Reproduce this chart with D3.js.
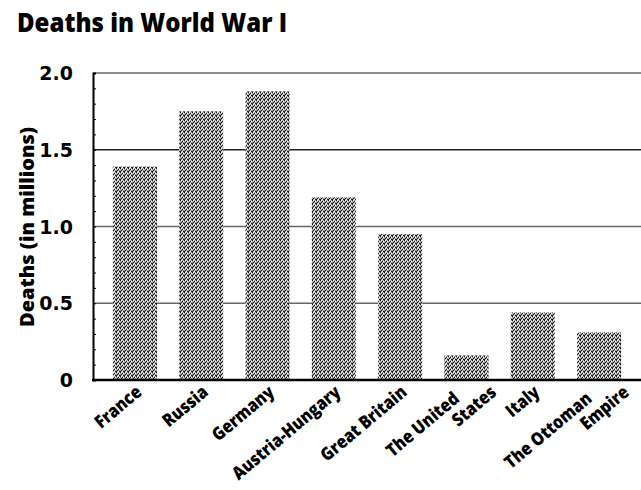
<!DOCTYPE html>
<html>
<head>
<meta charset="utf-8">
<script src="https://cdn.jsdelivr.net/npm/d3@7"></script>
<style>
  body { margin: 0; background: #fff; }
  svg { display: block; }
</style>
</head>
<body>
<div id="chart"></div>
<script>
var countries = ['France', 'Russia', 'Germany', 'Austria-Hungary', 'Great Britain',
                 'The United\nStates', 'Italy', 'The Ottoman\nEmpire'];
var deaths = [1.39, 1.75, 1.88, 1.19, 0.95, 0.16, 0.44, 0.31];
var yTicks = [0, 0.5, 1.0, 1.5, 2.0];
var yTickLabels = ['0', '0.5', '1.0', '1.5', '2.0'];

var width = 641;
var height = 490;
var mainFont = '"Open Sans", "DejaVu Sans", sans-serif';
var tickFont = '"DejaVu Sans", sans-serif';

var svg = d3.select('#chart').append('svg')
    .attr('width', width)
    .attr('height', height);

// stipple pattern for the bars
var defs = svg.append('defs');
var pat = defs.append('pattern')
    .attr('id', 'stipple')
    .attr('patternUnits', 'userSpaceOnUse')
    .attr('width', 4)
    .attr('height', 4);
pat.append('rect').attr('width', 4).attr('height', 4).attr('fill', '#aaa');
[[0, 0], [2, 1], [1, 2], [3, 3], [0, 3]].forEach(function(p) {
    pat.append('rect').attr('x', p[0]).attr('y', p[1]).attr('width', 1).attr('height', 1).attr('fill', '#1a1a1a');
});
[[1, 0], [3, 1], [2, 3]].forEach(function(p) {
    pat.append('rect').attr('x', p[0]).attr('y', p[1]).attr('width', 1).attr('height', 1).attr('fill', '#fff');
});

var x = d3.scaleBand()
    .domain(countries)
    .range([93, 641])
    .paddingInner(0.336)
    .paddingOuter(0.3);

var y = d3.scaleLinear()
    .domain([0, 2])
    .range([380, 73]);

// title
svg.append('text')
    .attr('x', 17)
    .attr('y', 32)
    .attr('font-family', mainFont)
    .attr('font-weight', 800)
    .attr('font-size', 26)
    .attr('textLength', 270)
    .attr('lengthAdjust', 'spacingAndGlyphs')
    .attr('fill', '#000')
    .text('Deaths in World War I');

// gridlines
svg.append('g')
    .selectAll('line')
    .data(yTicks.filter(function(d) { return d > 0; }))
    .join('line')
    .attr('x1', 93)
    .attr('x2', width)
    .attr('y1', function(d) { return y(d); })
    .attr('y2', function(d) { return y(d); })
    .attr('stroke', function(d) { return d === 1.5 ? '#222' : '#666'; })
    .attr('stroke-width', 1.5);

// bars
svg.append('g')
    .selectAll('rect')
    .data(deaths)
    .join('rect')
    .attr('x', function(d, i) { return x(countries[i]); })
    .attr('y', function(d) { return y(d); })
    .attr('width', x.bandwidth())
    .attr('height', function(d) { return y(0) - y(d); })
    .attr('fill', 'url(#stipple)');

// y axis with minor ticks
var yAxis = d3.axisRight(y)
    .tickValues(d3.range(0, 2.01, 0.1))
    .tickSize(3)
    .tickFormat('');
var ya = svg.append('g')
    .attr('transform', 'translate(93,0)')
    .call(yAxis);
ya.select('.domain').attr('stroke', '#000').attr('stroke-width', 2);
ya.selectAll('.tick line').attr('stroke', '#000');

// baseline
svg.append('line')
    .attr('x1', 92)
    .attr('x2', width)
    .attr('y1', y(0))
    .attr('y2', y(0))
    .attr('stroke', '#000')
    .attr('stroke-width', 2.5);

// tick labels
svg.append('g')
    .selectAll('text')
    .data(yTicks)
    .join('text')
    .attr('x', 73)
    .attr('y', function(d) { return y(d) + 7; })
    .attr('text-anchor', 'end')
    .attr('font-family', tickFont)
    .attr('font-weight', 'bold')
    .attr('font-size', 19)
    .text(function(d, i) { return yTickLabels[i]; });

// y axis title
svg.append('text')
    .attr('transform', 'translate(34,' + 227 + ') rotate(-90)')
    .attr('text-anchor', 'middle')
    .attr('font-family', mainFont)
    .attr('font-weight', 800)
    .attr('font-size', 20)
    .attr('textLength', 200)
    .attr('lengthAdjust', 'spacingAndGlyphs')
    .text('Deaths (in millions)');

// category labels, rotated
var labels = svg.append('g')
    .selectAll('text')
    .data(countries)
    .join('text')
    .attr('transform', function(d) {
        var cx = x(d) + x.bandwidth() / 2 + 8;
        return 'translate(' + cx + ',394) rotate(-40) scale(0.88,1)';
    })
    .attr('text-anchor', 'end')
    .attr('font-family', mainFont)
    .attr('font-weight', 800)
    .attr('font-size', 18);

labels.each(function(d) {
    var lines = d.split('\n');
    var t = d3.select(this);
    if (lines.length === 1) {
        t.append('tspan').attr('x', 0).attr('y', 0).text(d);
        return;
    }
    // two-line labels: first line pulled back, second pushed forward
    t.append('tspan').attr('x', -17).attr('y', -4).text(lines[0]);
    t.append('tspan').attr('x', 20).attr('y', 15).text(lines[1]);
});
</script>
</body>
</html>
